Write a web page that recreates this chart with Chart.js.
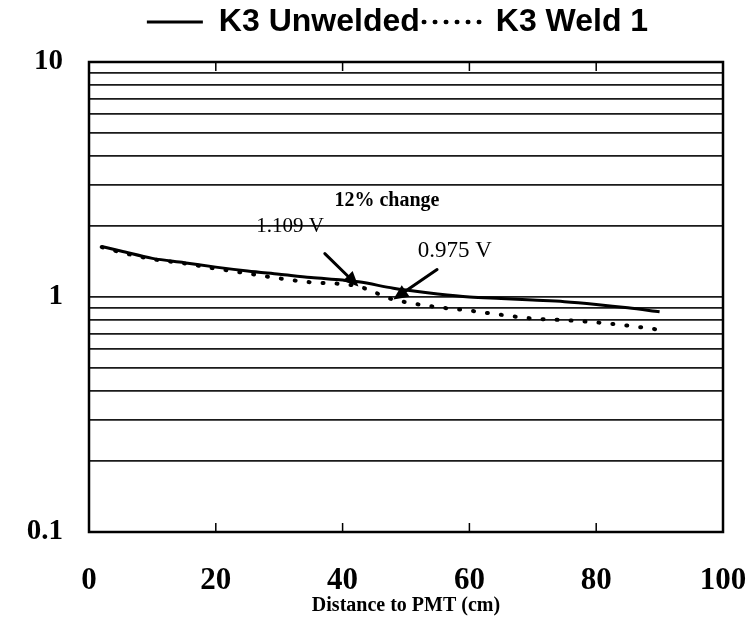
<!DOCTYPE html>
<html>
<head>
<meta charset="utf-8">
<script src="https://cdn.jsdelivr.net/npm/chart.js@4"></script>
<style>
  html, body { margin: 0; padding: 0; background: #fff; }
  #wrap { width: 749px; height: 620px; }
</style>
</head>
<body>
<div id="wrap"><canvas id="chart" width="749" height="620"></canvas></div>
<script>
// Light output along the counter, read at the PMT (log scale)
const distance = [2, 5, 10, 15, 20, 25, 30, 35, 40, 42.5, 48, 50, 55, 60, 65, 70, 75, 80, 85, 90];
const unwelded = [1.64, 1.57, 1.46, 1.40, 1.34, 1.29, 1.25, 1.21, 1.18, 1.16, 1.09, 1.07, 1.03, 1.00, 0.985, 0.97, 0.955, 0.93, 0.90, 0.865];
const weld1    = [1.63, 1.55, 1.45, 1.39, 1.32, 1.26, 1.20, 1.155, 1.135, 1.109, 0.975, 0.95, 0.905, 0.875, 0.84, 0.81, 0.797, 0.78, 0.755, 0.725];
const seriesNames = ['K3 Unwelded', 'K3 Weld 1'];

const xTicks = [0, 20, 40, 60, 80, 100];
const yGridValues = [0.1, 0.2, 0.3, 0.4, 0.5, 0.6, 0.7, 0.8, 0.9,
                     1, 2, 3, 4, 5, 6, 7, 8, 9, 10];
const yTickLabels = { 0.1: '0.1', 1: '1', 10: '10' };

const xAxisTitle = 'Distance to PMT (cm)';

// Notes written on the plot, placed in data coordinates
const notes = [
  { text: '12% change', at: [47, 2.57],  font: 'bold 20px "Liberation Serif"' },
  { text: '1.109 V',    at: [31.7, 2.0], font: '21px "Liberation Serif"' },
  { text: '0.975 V',    at: [57.7, 1.576], font: '23px "Liberation Serif"' }
];
// Arrows from a tail (data coordinates) to a point of the weld series
const arrows = [
  { from: [37.2, 1.53],  toIndex: 9 },
  { from: [54.9, 1.309], toIndex: 10 }
];

const legendShift = { x: 23, y: -14 };

const toPoints = (ys) => distance.map((x, i) => ({ x, y: ys[i] }));

const plotDecor = {
  id: 'plotDecor',
  afterLayout(chart) {
    const lg = chart.legend;
    if (!lg) return;
    lg.left += legendShift.x; lg.right += legendShift.x;
    lg.top += legendShift.y; lg.bottom += legendShift.y;
  },
  afterDraw(chart) {
    const { ctx, chartArea: a, scales: { x, y } } = chart;
    ctx.save();
    // frame
    ctx.strokeStyle = '#000';
    ctx.lineWidth = 2.5;
    ctx.setLineDash([]);
    ctx.strokeRect(a.left, a.top, a.right - a.left, a.bottom - a.top);
    // inner tick marks on top and bottom edges
    ctx.lineWidth = 1.5;
    x.ticks.forEach(t => {
      if (t.value <= x.min || t.value >= x.max) return;
      const px = x.getPixelForValue(t.value);
      ctx.beginPath();
      ctx.moveTo(px, a.bottom); ctx.lineTo(px, a.bottom - 9);
      ctx.moveTo(px, a.top); ctx.lineTo(px, a.top + 9);
      ctx.stroke();
    });
    // notes
    ctx.fillStyle = '#000';
    ctx.textAlign = 'center';
    ctx.textBaseline = 'middle';
    notes.forEach(n => {
      ctx.font = n.font;
      ctx.fillText(n.text, x.getPixelForValue(n.at[0]), y.getPixelForValue(n.at[1]));
    });
    // arrows
    arrows.forEach(ar => {
      const x0 = x.getPixelForValue(ar.from[0]), y0 = y.getPixelForValue(ar.from[1]);
      const x1 = x.getPixelForValue(distance[ar.toIndex]), y1 = y.getPixelForValue(weld1[ar.toIndex]);
      const ang = Math.atan2(y1 - y0, x1 - x0);
      const head = 15, half = 7;
      const bx = x1 - Math.cos(ang) * head, by = y1 - Math.sin(ang) * head;
      ctx.lineWidth = 3;
      ctx.lineCap = 'round';
      ctx.beginPath();
      ctx.moveTo(x0, y0); ctx.lineTo(bx, by);
      ctx.stroke();
      ctx.beginPath();
      ctx.moveTo(x1, y1);
      ctx.lineTo(bx - Math.sin(ang) * half, by + Math.cos(ang) * half);
      ctx.lineTo(bx + Math.sin(ang) * half, by - Math.cos(ang) * half);
      ctx.closePath();
      ctx.fill();
    });
    ctx.restore();
  }
};

// legend samples: solid rule and a row of dots
const legendSamples = [
  { width: 3, dash: [], cap: 'butt' },
  { width: 4.5, dash: [0.5, 10.5], cap: 'round' }
];

new Chart(document.getElementById('chart'), {
  type: 'line',
  data: {
    datasets: [
      {
        label: seriesNames[0],
        data: toPoints(unwelded),
        borderColor: '#000',
        borderWidth: 3,
        pointRadius: 0,
        cubicInterpolationMode: 'monotone',
        fill: false
      },
      {
        label: seriesNames[1],
        data: toPoints(weld1),
        borderColor: '#000',
        borderWidth: 4,
        borderDash: [1, 13],
        borderCapStyle: 'round',
        pointRadius: 0,
        cubicInterpolationMode: 'monotone',
        fill: false
      }
    ]
  },
  options: {
    responsive: false,
    animation: false,
    layout: { padding: { left: 0, right: 0, top: 16, bottom: 0 } },
    plugins: {
      legend: {
        position: 'top',
        labels: {
          usePointStyle: true,
          pointStyleWidth: 56,
          padding: 4,
          color: '#000',
          font: { family: '"Liberation Sans", Arial, sans-serif', weight: 'bold', size: 32 },
          generateLabels: (chart) => chart.data.datasets.map((ds, i) => ({
            text: ds.label,
            datasetIndex: i,
            hidden: false,
            pointStyle: 'line',
            strokeStyle: ds.borderColor,
            fillStyle: ds.borderColor,
            fontColor: '#000',
            lineWidth: legendSamples[i].width,
            lineDash: legendSamples[i].dash,
            lineCap: legendSamples[i].cap
          }))
        }
      },
      tooltip: { enabled: false }
    },
    scales: {
      x: {
        type: 'linear',
        min: 0,
        max: 100,
        afterBuildTicks: (s) => { s.ticks = xTicks.map(v => ({ value: v })); },
        afterFit: (s) => { s.height = 88; s.paddingRight = 26; s.paddingLeft = 0; },
        grid: { display: false, drawTicks: false },
        border: { display: false },
        ticks: {
          color: '#000',
          padding: 33,
          maxRotation: 0,
          autoSkip: false,
          font: { family: '"Liberation Serif", "Times New Roman", serif', weight: 'bold', size: 31, lineHeight: 1 }
        },
        title: {
          display: true,
          text: xAxisTitle,
          color: '#000',
          padding: { top: 0, bottom: 4 },
          font: { family: '"Liberation Serif", "Times New Roman", serif', weight: 'bold', size: 20, lineHeight: 1 }
        }
      },
      y: {
        type: 'logarithmic',
        min: 0.1,
        max: 10,
        afterBuildTicks: (s) => { s.ticks = yGridValues.map(v => ({ value: v })); },
        afterFit: (s) => { s.width = 89; },
        grid: { color: '#1a1a1a', lineWidth: 1.8, drawTicks: false },
        border: { display: false },
        ticks: {
          color: '#000',
          padding: 26,
          autoSkip: false,
          callback: (v) => yTickLabels[v] ?? '',
          font: { family: '"Liberation Serif", "Times New Roman", serif', weight: 'bold', size: 29 }
        }
      }
    }
  },
  plugins: [plotDecor]
});
</script>
</body>
</html>
